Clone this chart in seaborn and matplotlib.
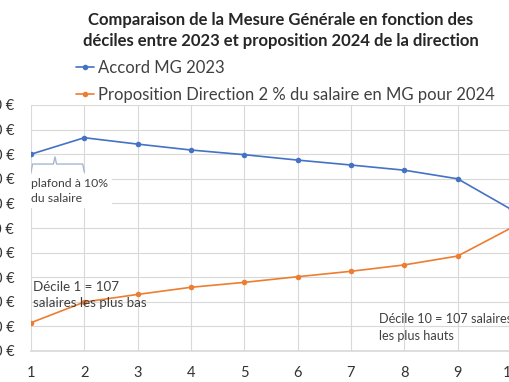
import matplotlib
matplotlib.use("Agg")
import matplotlib.pyplot as plt
import pandas as pd
import seaborn as sns

# Data
deciles = [1, 2, 3, 4, 5, 6, 7, 8, 9, 10]
mg_2023 = [800, 867, 841, 817, 798, 776, 756, 735, 700, 576]
prop_2024 = [115, 199, 230, 259, 279, 302, 324, 350, 386, 500]
y_ticks = [0, 100, 200, 300, 400, 500, 600, 700, 800, 900, 1000]
series_names = ['Accord MG 2023', 'Proposition Direction 2 % du salaire en MG pour 2024']

df = pd.DataFrame({
    'decile': deciles * 2,
    'value': mg_2023 + prop_2024,
    'serie': [series_names[0]] * len(deciles) + [series_names[1]] * len(deciles),
})

sns.set_theme(style='whitegrid')
plt.rcParams['font.family'] = ['Lato', 'DejaVu Sans']

blue = '#4472C4'
orange = '#ED7D31'
grid = '#D9D9D9'
note = '#404040'

fig = plt.figure(figsize=(5.1, 3.82), dpi=100)
ax = fig.add_axes([31 / 510, 31 / 382, 480 / 510, 246 / 382])

sns.lineplot(data=df, x='decile', y='value', hue='serie',
             palette=[blue, orange], marker='o', markersize=4,
             markeredgewidth=0, linewidth=1.2, ax=ax, legend=False)

ax.set_xlim(1, 10)
ax.set_ylim(0, 1000)
ax.set_xticks(deciles)
ax.set_yticks(y_ticks)
ax.set_yticklabels([f'{v} €' for v in y_ticks])
ax.set_xlabel('')
ax.set_ylabel('')
ax.grid(True, color=grid, linewidth=0.8)
ax.set_facecolor('white')
for s in ['top', 'right', 'left']:
    ax.spines[s].set_visible(False)
ax.spines['bottom'].set_color(grid)
ax.tick_params(axis='both', labelsize=10.5, colors='#333333', length=0)
ax.tick_params(axis='x', pad=11)
ax.tick_params(axis='y', pad=12)

# Title
fig.text(0.551, 0.968, 'Comparaison de la Mesure Générale en fonction des\n'
         'déciles entre 2023 et proposition 2024 de la direction',
         ha='center', va='top', fontsize=12, fontweight='bold',
         color='#262626', linespacing=1.4)

# Legend
handles = ax.get_lines()[:2]
leg = fig.legend(handles, series_names, loc='upper left',
                 bbox_to_anchor=(76 / 510, 1 - 60 / 382), frameon=False,
                 fontsize=12, handlelength=1.1, handletextpad=0.2,
                 labelspacing=0.66, borderaxespad=0, borderpad=0)
for t in leg.get_texts():
    t.set_color(note)

# Brace under the first segment
bx = [1, 1.03, 1.42, 1.45, 1.48, 1.97, 2]
by = [728, 760, 760, 789, 760, 760, 728]
ax.plot(bx, by, color='#A6B8CF', linewidth=1.0)

# Annotations
ax.text(1.0, 703, 'plafond à 10%\ndu salaire', ha='left', va='top',
        fontsize=8.8, color=note, linespacing=1.45,
        bbox=dict(facecolor='white', edgecolor='none', pad=3))
ax.text(1.03, 228, 'Décile 1 = 107\nsalaires les plus bas', ha='left',
        va='center', fontsize=9.6, color=note, linespacing=1.4)
ax.text(7.53, 96, 'Décile 10 = 107 salaires\nles plus hauts', ha='left',
        va='center', fontsize=9.1, color=note, linespacing=1.5)

fig.savefig('out.png', dpi=100)
